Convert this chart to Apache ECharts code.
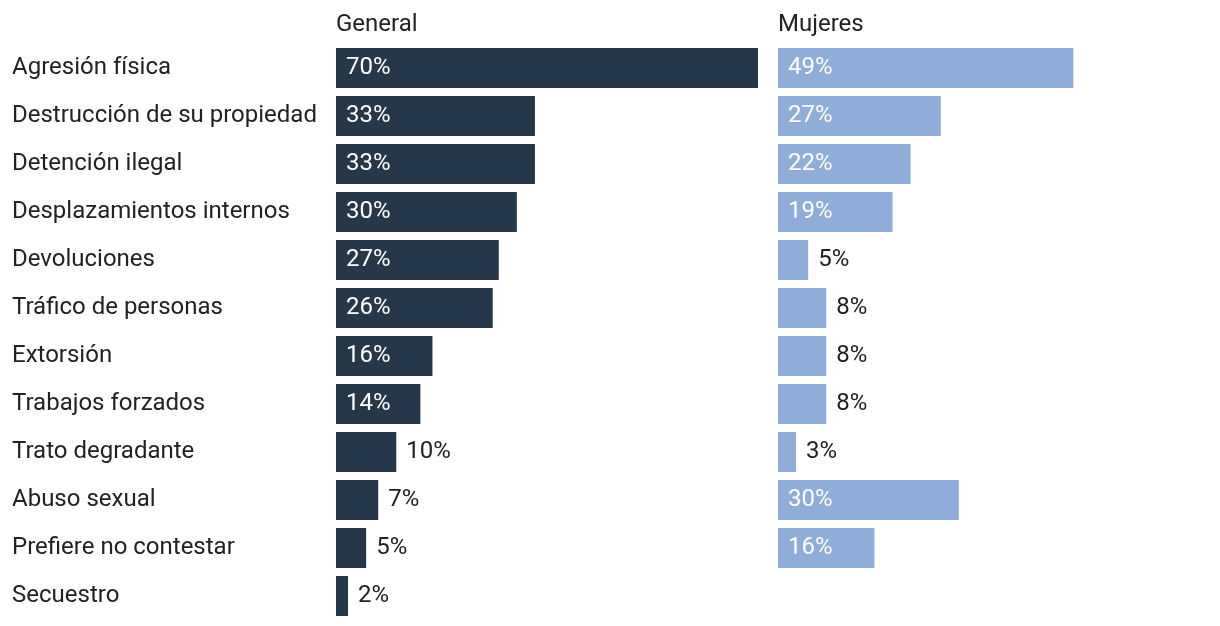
<!DOCTYPE html>
<html>
<head>
<meta charset="utf-8">
<script src="https://cdn.jsdelivr.net/npm/echarts@6/dist/echarts.min.js"></script>
<style>
  html, body { margin: 0; padding: 0; background: #fff; }
  #main { width: 1220px; height: 626px; }
</style>
</head>
<body>
<div id="main"></div>
<script>
// categorias y valores (%)
var categories = ['Agresión física', 'Destrucción de su propiedad', 'Detención ilegal',
  'Desplazamientos internos', 'Devoluciones', 'Tráfico de personas', 'Extorsión',
  'Trabajos forzados', 'Trato degradante', 'Abuso sexual', 'Prefiere no contestar', 'Secuestro'];
var general = [70, 33, 33, 30, 27, 26, 16, 14, 10, 7, 5, 2];
var mujeres = [49, 27, 22, 19, 5, 8, 8, 8, 3, 30, 16, null];
var panelTitles = ['General', 'Mujeres'];

var font = 'Roboto';
var textColor = '#222';

// etiqueta dentro de la barra si cabe, si no a la derecha
function toData(values){
  return values.map(function(v){
    if (v === null) return '-';
    var inside = v >= 14;
    return {
      value: v,
      label: {
        position: inside ? 'insideLeft' : 'right',
        color: inside ? '#fff' : textColor,
        distance: 10
      }
    };
  });
}

var chart = echarts.init(document.getElementById('main'));
chart.setOption({
  animation: false,
  title: [
    { text: panelTitles[0], left: 336, top: 13, padding: 0, textStyle: { fontFamily: font, fontSize: 24, fontWeight: 'normal', color: textColor } },
    { text: panelTitles[1], left: 778, top: 13, padding: 0, textStyle: { fontFamily: font, fontSize: 24, fontWeight: 'normal', color: textColor } }
  ],
  grid: [
    { left: 336, top: 44, width: 422, height: 576 },
    { left: 778, top: 44, width: 422, height: 576 }
  ],
  xAxis: [
    { gridIndex: 0, type: 'value', min: 0, max: 70, show: false },
    { gridIndex: 1, type: 'value', min: 0, max: 70, show: false }
  ],
  yAxis: [
    {
      gridIndex: 0, type: 'category', data: categories, inverse: true,
      axisLine: { show: false }, axisTick: { show: false },
      axisLabel: { align: 'left', margin: 324, padding: [4, 0, 0, 0], fontFamily: font, fontSize: 24, color: textColor }
    },
    {
      gridIndex: 1, type: 'category', data: categories, inverse: true, show: false
    }
  ],
  series: [
    {
      type: 'bar', xAxisIndex: 0, yAxisIndex: 0, barWidth: 40,
      data: toData(general),
      itemStyle: { color: '#26374a' },
      label: { show: true, formatter: '{c}%', padding: [4, 0, 0, 0], fontFamily: font, fontSize: 24 }
    },
    {
      type: 'bar', xAxisIndex: 1, yAxisIndex: 1, barWidth: 40,
      data: toData(mujeres),
      itemStyle: { color: '#8eadd9' },
      label: { show: true, formatter: '{c}%', padding: [4, 0, 0, 0], fontFamily: font, fontSize: 24 }
    }
  ]
});
</script>
</body>
</html>
